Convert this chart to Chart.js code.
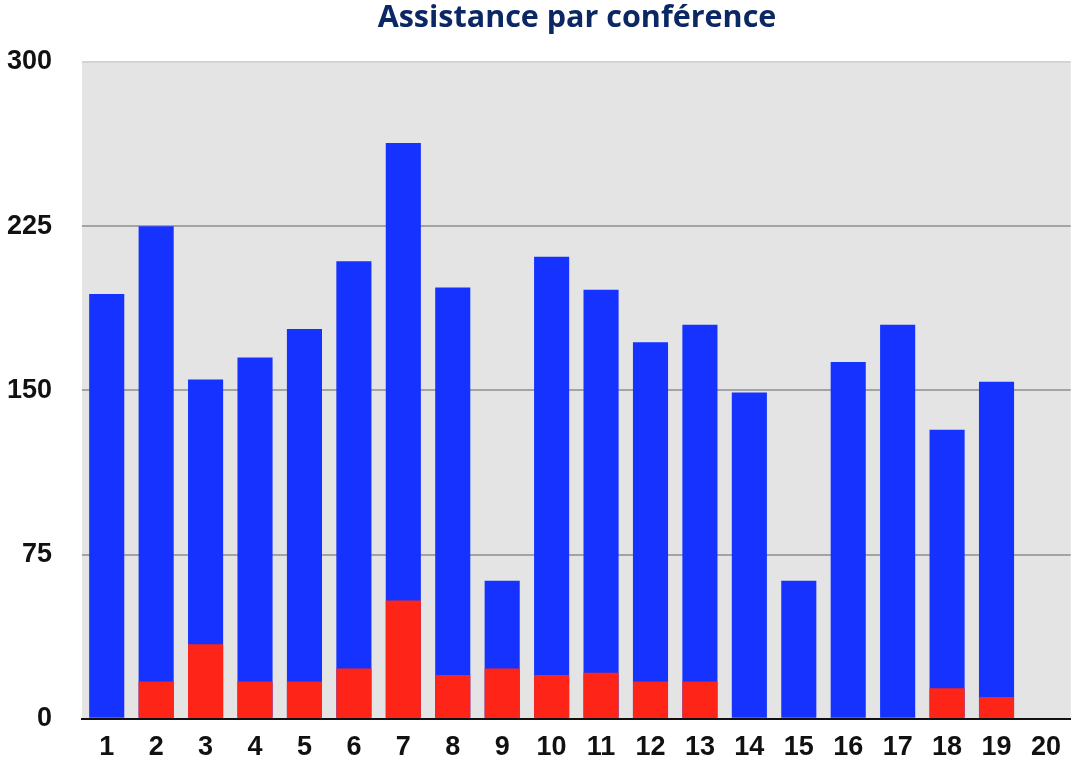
<!DOCTYPE html>
<html>
<head>
<meta charset="utf-8">
<script src="https://cdn.jsdelivr.net/npm/chart.js@4"></script>
<style>
    html, body { margin: 0; padding: 0; background: #fff; }
    #wrap { width: 1074px; height: 765px; position: relative; }
</style>
</head>
<body>
<div id="wrap"><canvas id="chart"></canvas></div>
<script>
// data
const conferences = ['1', '2', '3', '4', '5', '6', '7', '8', '9', '10',
    '11', '12', '13', '14', '15', '16', '17', '18', '19', '20'];
const totalAttendance = [194, 225, 155, 165, 178, 209, 263, 197, 63, 211,
    196, 172, 180, 149, 63, 163, 180, 132, 154, 0];
const redPart = [0, 17, 34, 17, 17, 23, 54, 20, 23, 20,
    21, 17, 17, 0, 0, 0, 0, 14, 10, 0];
const yTicks = [0, 75, 150, 225, 300];
const chartTitle = 'Assistance par conférence';

// grey plot background + title (title sits a bit right of the canvas centre)
const plotBg = {
    id: 'plotBg',
    beforeDraw(chart) {
        const { ctx, chartArea: a } = chart;
        ctx.save();
        ctx.fillStyle = '#e4e4e4';
        ctx.fillRect(a.left, a.top, a.right - a.left, a.bottom - a.top);
        ctx.restore();
    },
    afterDraw(chart) {
        const ctx = chart.ctx;
        ctx.save();
        ctx.font = 'bold 30.5px "Open Sans", sans-serif';
        ctx.fillStyle = '#0b2865';
        ctx.textAlign = 'center';
        ctx.textBaseline = 'middle';
        ctx.fillText(chartTitle, 577, 18);
        ctx.restore();
    }
};

const tickFont = { family: '"Liberation Sans", Arial, sans-serif', size: 27, weight: 'bold' };

new Chart(document.getElementById('chart'), {
    type: 'bar',
    data: {
        labels: conferences,
        datasets: [
            {
                label: 'rouge',
                data: redPart,
                backgroundColor: '#ff2418',
                order: 0
            },
            {
                label: 'total',
                data: totalAttendance,
                backgroundColor: '#1532ff',
                order: 1
            }
        ]
    },
    options: {
        responsive: true,
        maintainAspectRatio: false,
        animation: false,
        grouped: false,
        categoryPercentage: 1,
        barPercentage: 0.71,
        layout: { padding: { top: 62, right: 1, left: 0, bottom: 0 } },
        plugins: {
            legend: { display: false },
            tooltip: { enabled: false },
            title: { display: false }
        },
        scales: {
            x: {
                grid: { display: false, drawTicks: false },
                border: { display: true, color: '#111', width: 2 },
                ticks: { color: '#111', font: tickFont, padding: 13, maxRotation: 0 },
                afterFit(s) { s.height = 46; }
            },
            y: {
                min: 0,
                max: 300,
                afterBuildTicks(s) { s.ticks = yTicks.map(v => ({ value: v })); },
                grid: {
                    drawTicks: false,
                    lineWidth: 2,
                    color: ctx => ctx.tick && ctx.tick.value === 300 ? '#d4d4d4' : '#a3a3a3'
                },
                border: { display: false },
                ticks: { color: '#111', font: tickFont, padding: 30 },
                afterFit(s) { s.width = 82; }
            }
        }
    },
    plugins: [plotBg]
});
</script>
</body>
</html>
